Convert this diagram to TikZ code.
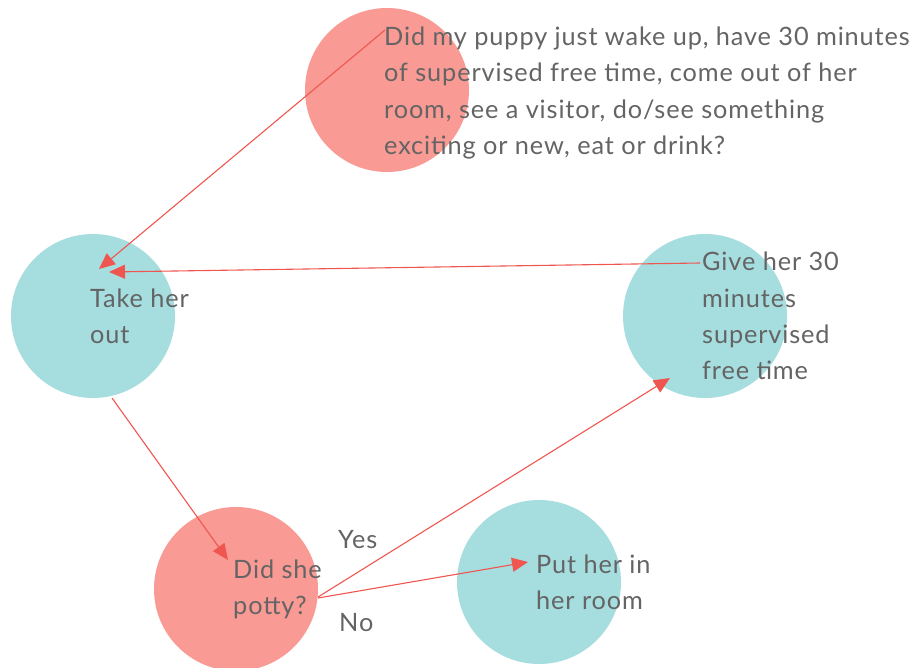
\documentclass[tikz,border=0pt]{standalone}
\usepackage{fontspec}
\setmainfont[LetterSpace=3.5]{Lato}
\usetikzlibrary{arrows.meta}

\definecolor{salmon}{RGB}{249,154,148}
\definecolor{aqua}{RGB}{166,221,223}
\definecolor{arrowred}{RGB}{240,86,80}
\definecolor{txtgray}{RGB}{100,100,100}

\tikzset{
  pinkdot/.style={circle, fill=salmon, minimum size=164pt, inner sep=0pt},
  aquadot/.style={circle, fill=aqua, minimum size=164pt, inner sep=0pt},
  txt/.style={anchor=west, align=left, inner sep=0pt, text=txtgray, xshift=-3pt,
    font=\fontsize{25.3}{36.3}\selectfont},
  flow/.style={arrowred, line width=1.1pt, -{Triangle[length=16pt,width=14pt]}}
}

\begin{document}
\begin{tikzpicture}[x=1pt,y=-1pt]
            \useasboundingbox (0,0) rectangle (917,668);
            \node[pinkdot] (wake) at (387,90) {};
            \node[aquadot] (take) at (93,316) {};
            \node[aquadot] (give) at (705,316) {};
            \node[pinkdot] (potty) at (236,589) {};
            \node[aquadot] (room) at (539,582) {};
            \node[txt] (waketxt) at ([yshift=-3pt]wake.center) {Did my puppy just wake up, have 30 minutes\\of supervised free time, come out of her\\room, see a visitor, do/see something\\exciting or new, eat or drink?};
            \node[txt] (taketxt) at (take.center) {Take her\\out};
            \node[txt] (givetxt) at (give.center) {Give her 30\\minutes\\supervised\\free time};
            \node[txt] (pottytxt) at (potty.center) {Did she\\potty?};
            \node[txt] (roomtxt) at (room.center) {Put her in\\her room};
            \node[txt] (yes) at (341,540) {Yes};
            \node[txt] (no) at (342,623) {No};
            \draw[flow] ([shift={(-2,-60)}]wake.center) -- ([shift={(6,-47)}]take.center);
            \draw[flow] ([shift={(-5,-53)}]give.center) -- ([shift={(16,-44)}]take.center);
            \draw[flow] ([shift={(19,82)}]take.center) -- ([shift={(-8,-29)}]potty.center);
            \draw[flow] ([shift={(82,8)}]potty.center) -- ([shift={(-35,62)}]give.center);
            \draw[flow] ([shift={(82,9)}]potty.center) -- ([shift={(-11,-20)}]room.center);
        \end{tikzpicture}
\end{document}
